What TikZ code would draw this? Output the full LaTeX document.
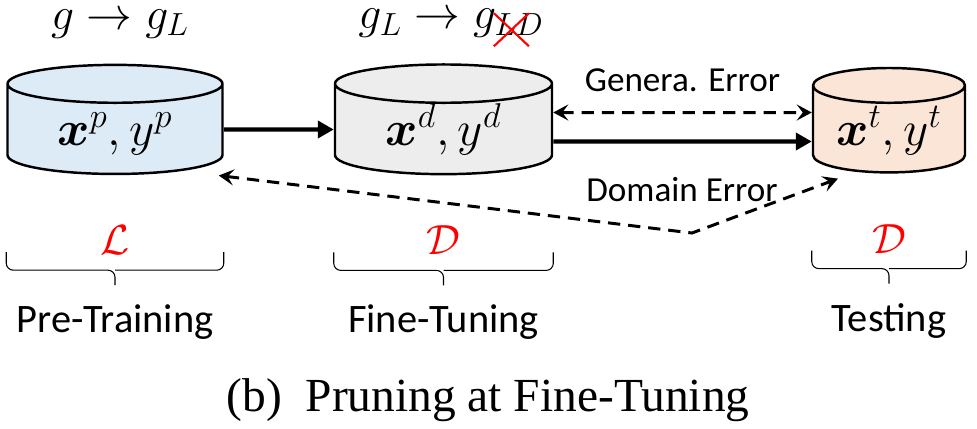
\documentclass[tikz,border=0pt]{standalone}
\usepackage{fontspec}
\setmainfont{Liberation Serif}
\newfontfamily\calibri{Carlito}
\usepackage{anyfontsize,bm}
\usetikzlibrary{calc,arrows.meta,positioning,shapes.geometric}
\definecolor{pblue}{HTML}{DDEBF7}
\definecolor{fgray}{HTML}{EDEDED}
\definecolor{tpeach}{HTML}{FBE5D6}
\newcommand{\stagebrace}[3]{\draw[bracepath] ($(#1.south -| #1.west)+(0,-1.54)$) |- ($(#1.south)+(0,-1.9)$) -- ($(#1.south)+(0,-2.2)$);
\draw[bracepath] ($(#1.south -| #1.east)+(0,-1.54)$) |- ($(#1.south)+(0,-1.9)$);
\node[redcal] (#1obj) at ($(#1.south)+(0,-1.3)$){$\mathcal{#2}$};\node[stage] (#1name) at ($(#1.south)+(0,-2.94)$){#3};}

\begin{document}
\begin{tikzpicture}[
db/.style={cylinder,shape border rotate=90,draw,line width=1.4pt,aspect=0.33,minimum height=2.06cm,inner sep=0pt,text height=0.82cm,text depth=0.2cm,font=\fontsize{28}{32}\selectfont},
flow/.style={line width=2.3pt,-{Triangle[length=0.32cm,width=0.34cm]}},
err/.style={line width=1.7pt,dash pattern=on 7pt off 4.5pt,{Stealth[length=0.3cm,width=0.32cm,inset=0.12cm]}-{Stealth[length=0.3cm,width=0.32cm,inset=0.12cm]}},
lbl/.style={font=\calibri\fontsize{20}{24}\selectfont},
stage/.style={font=\calibri\fontsize{23}{27}\selectfont},
redcal/.style={text=red,font=\fontsize{24}{28}\selectfont},
bracepath/.style={line width=0.6pt,rounded corners=4pt},
mathlbl/.style={inner sep=0pt,font=\fontsize{26}{30}\selectfont},
cross/.style={red,line width=1.2pt}]
\useasboundingbox (0,0) rectangle (19.54,-8.56);
\node[db,fill=pblue,minimum width=4.3cm] (pre) at (2.3,-2.59){$\bm{x}^p, y^p$};
\node[db,fill=fgray,minimum width=4.34cm] (fine) at (8.87,-2.59){$\bm{x}^d, y^d$};
\node[db,fill=tpeach,minimum width=3.04cm] (test) at (17.78,-2.59){$\bm{x}^t, y^t$};
\node[mathlbl] (pregraph) at ($(pre.north)+(0.1,0.8)$){$g \to g_L$};
\node[mathlbl] (finegraph) at ($(fine.north)+(0.15,0.8)$){$g_L \to g_{LD}$};
\draw[cross] ($(finegraph.east)+(-1,0.2)$) -- ++(0.7,-0.66) ($(finegraph.east)+(-0.3,0.2)$) -- ++(-0.7,-0.66);
\draw[flow] (pre) -- (fine);
\draw[flow] ([yshift=-0.24cm]fine.east) -- ([yshift=-0.24cm]test.west);
\draw[err] ([yshift=0.34cm]fine.east) -- node[lbl,midway,yshift=0.64cm] (gen) {Genera. Error} ([yshift=0.34cm]test.west);
\coordinate (dip) at (13.84,-4.66);
\draw[err] ($(pre.east)+(-0.1,-0.92)$) -- (dip) -- ($(test.south)+(-1.02,-0.1)$);
\node[lbl] (dom) at ($(dip)+(-0.2,0.86)$){Domain Error};
\stagebrace{pre}{L}{Pre-Training}\stagebrace{fine}{D}{Fine-Tuning}\stagebrace{test}{D}{Testing}
\node[font=\fontsize{27}{31}\selectfont] (caption) at (9.76,-8){(b)\hspace{0.5em}Pruning at Fine-Tuning};
\end{tikzpicture}
\end{document}
